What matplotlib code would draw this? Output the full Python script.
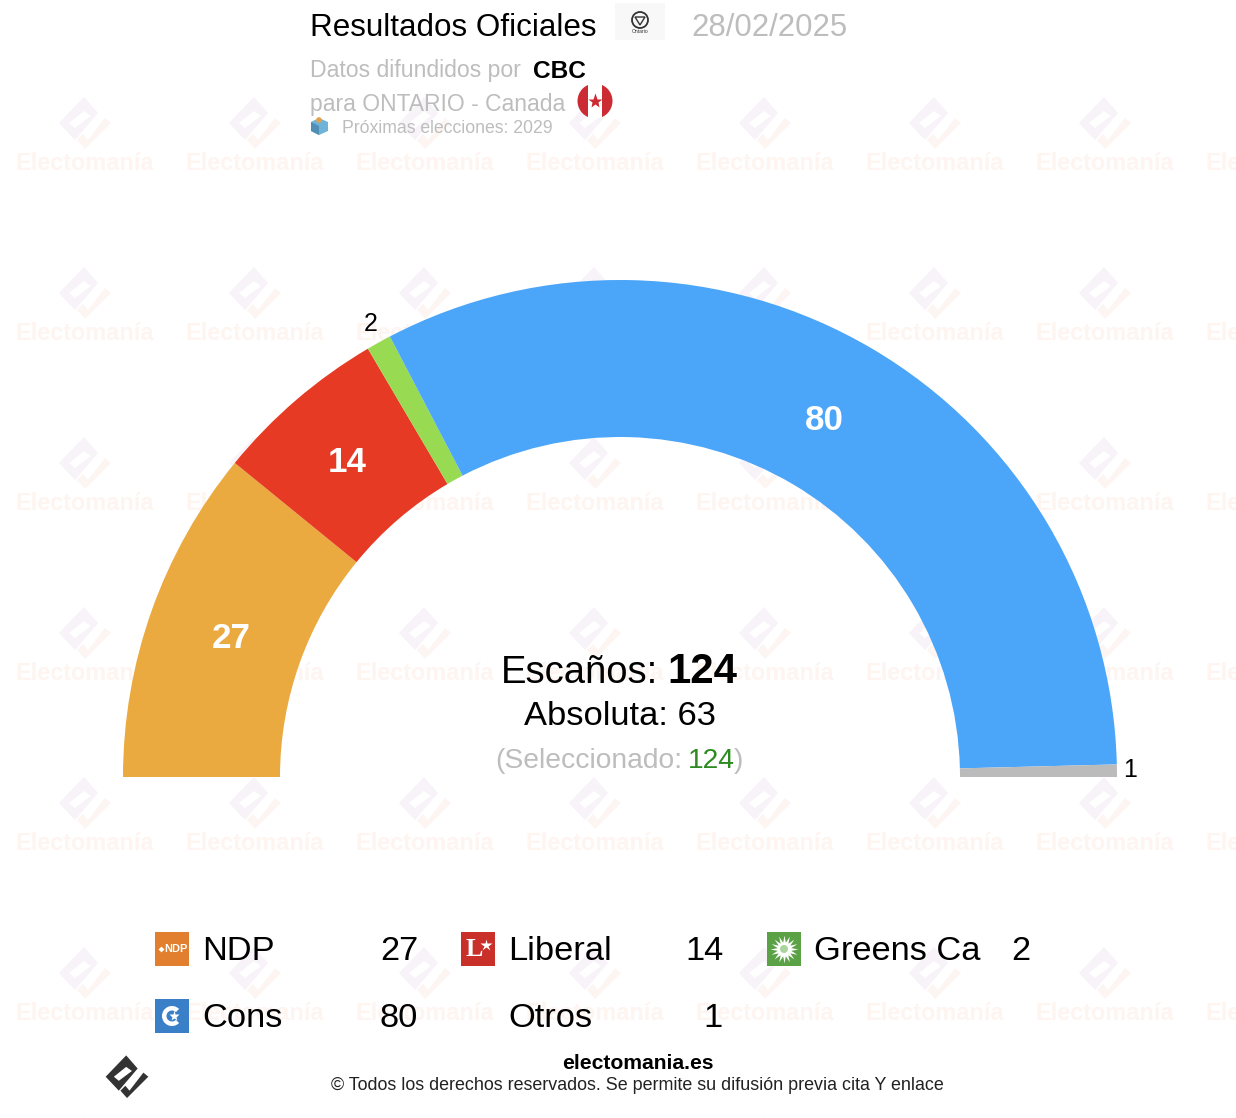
import matplotlib
matplotlib.use("Agg")
import math
import matplotlib.pyplot as plt
from matplotlib.patches import Wedge, Circle, Rectangle, Polygon

plt.rcParams['font.family'] = ['Liberation Sans', 'DejaVu Sans']

# seats, in the order they go round the arc
parties = ["NDP", "Liberal", "Greens Ca", "Cons", "Otros"]
seats = [27, 14, 2, 80, 1]
arc_colors = ["#EBAA3F", "#E63A24", "#98DA52", "#4BA5F8", "#BBBBBB"]
total_seats = 124
majority = 63
selected = 124

title = "Resultados Oficiales"
date = "28/02/2025"
source = "CBC"
region = "para ONTARIO - Canada"
next_vote = "Próximas elecciones: 2029"

CX, CY = 620, 777
R_OUT, R_IN = 497, 340
GREY = "#BDBDBD"

# small hand shifts of the arc labels, by party
label_nudge = {"NDP": (5, -1), "Cons": (-8, 1), "Greens Ca": (0, -7), "Otros": (-3, -3)}

fig = plt.figure(figsize=(12.36, 11.18), dpi=100)
ax = fig.add_axes([0, 0, 1, 1])
ax.set_xlim(0, 1236)
ax.set_ylim(1118, 0)
ax.axis("off")


def put(x, y, s, px, color="black", weight="normal", ha="left", z=5, **kw):
	# px is the font height in picture pixels
	return ax.text(x, y + px * 0.09, s, fontsize=px * 0.72, color=color, fontweight=weight,
		ha=ha, va="center", zorder=z, **kw)


def logo(x, y, scale, c1, c2, hole, z):
	body = [(-1, -30), (13, -14), (-10, 13), (-26, -4)]
	gap = [(-1, -16), (6, -11), (-10, 1), (-16, -4)]
	tick = [(-8, 13), (-2, 7), (3, 13), (20, -9), (26, -4), (0, 22)]
	for pts, col in ((body, c1), (gap, hole), (tick, c2)):
		ax.add_patch(Polygon([(x + a * scale, y + b * scale) for a, b in pts],
			closed=True, fc=col, ec="none", zorder=z))


# watermark grid
for row in range(7):
	for col in range(8):
		wx = 85 + 170 * col
		wy = 127 + 170 * row
		logo(wx, wy, 1, "#F7F3F9", "#FDF5F2", "white", 1)
		put(wx, wy + 34, "Electomanía", 23.5, color="#FEF4F0", weight="bold", ha="center", z=1)

# gauge
start = 0
for name, n, col in zip(parties, seats, arc_colors):
	t1 = 180 + start / total_seats * 180
	t2 = 180 + (start + n) / total_seats * 180
	ax.add_patch(Wedge((CX, CY), R_OUT, t1, t2, width=R_OUT - R_IN, fc=col, ec="none", zorder=3))
	mid = math.radians((t1 + t2) / 2)
	dx, dy = label_nudge.get(name, (0, 0))
	if n > 2:
		r = (R_OUT + R_IN) / 2
		put(CX + r * math.cos(mid) + dx, CY + r * math.sin(mid) + dy, str(n), 35, color="white",
			weight="bold", ha="center")
	else:
		r = R_OUT + 16
		put(CX + r * math.cos(mid) + dx, CY + r * math.sin(mid) + dy, str(n), 25, ha="center")
	start += n

# centre text
put(501, 670, "Escaños:", 38.2)
put(667, 668, str(total_seats), 42, weight="bold")
put(620, 713, "Absoluta: " + str(majority), 34.5, ha="center")
put(495, 758, "(Seleccionado:", 28.2, color=GREY)
put(688, 758, str(selected), 28.2, color="#2E8B22")
put(734, 758, ")", 28.2, color=GREY)

# header
put(310, 25, title, 31.4)
put(691, 25, date, 31.2, color=GREY)
put(310, 68, "Datos difundidos por", 23, color=GREY)
put(533, 69, source, 24.5, weight="bold")
put(310, 102, region, 22.9, color=GREY)
put(342, 127, next_vote, 17.6, color=GREY)

# ontario badge
ax.add_patch(Rectangle((615, 3), 50, 37, fc="#F8F8F8", ec="none", zorder=4))
ax.add_patch(Circle((640, 20), 8, fc="none", ec="#333333", lw=1.3, zorder=5))
ax.add_patch(Polygon([(635, 17), (645, 17), (640, 25)], closed=True, fc="none", ec="#333333", lw=1, zorder=5))
put(640, 31, "Ontario", 5, color="#333333", ha="center")

# canada flag
ax.add_patch(Circle((595, 101), 17.5, fc="white", ec="none", zorder=4))
for left, wide in ((575, 13), (602, 13)):
	clip = Circle((595, 101), 17.5, transform=ax.transData)
	bar = Rectangle((left, 83), wide, 36, fc="#CB2B32", ec="none", zorder=5)
	ax.add_patch(bar)
	bar.set_clip_path(clip)
ax.plot([595], [101], marker="*", ms=11, color="#CB2B32", mec="none", zorder=6)

# ballot box
ax.add_patch(Polygon([(311, 122), (319, 118), (328, 122), (328, 131), (319, 135), (311, 131)],
	closed=True, fc="#6FB3D8", ec="none", zorder=5))
ax.add_patch(Polygon([(311, 122), (319, 126), (319, 135), (311, 131)], closed=True, fc="#4F8FB5", ec="none", zorder=6))
ax.add_patch(Circle((319, 120), 2.8, fc="#E3A24A", ec="none", zorder=6))

# legend
leg_x = [155, 461, 767, 155, 461]
leg_y = [949, 949, 949, 1016, 1016]
leg_icon = ["#E27F2E", "#C9302A", "#5AA245", "#3A80C8", None]
for i in range(len(parties)):
	x, y = leg_x[i], leg_y[i]
	if leg_icon[i]:
		ax.add_patch(Rectangle((x, y - 17), 34, 34, fc=leg_icon[i], ec="none", zorder=4))
	put(x + 47, y - 1, parties[i], 34.4)
	put(x + 263 - (2 if seats[i] == 1 else 0), y - 1, str(seats[i]), 34.4, ha="right")

# icon glyphs
put(176, 948, "NDP", 11, color="white", weight="bold", ha="center")
ax.plot([161], [949], marker="D", ms=3, color="white", mec="none", zorder=6)
put(474, 947, "L", 26, color="white", weight="bold", ha="center", family="Liberation Serif")
ax.plot([486], [945], marker="*", ms=9, color="white", mec="none", zorder=6)
ax.plot([784], [949], marker=(16, 1, 0), ms=20, color="white", mec="none", zorder=5)
ax.add_patch(Circle((784, 949), 4, fc="#A9D49C", ec="none", zorder=6))
ax.add_patch(Wedge((172, 1016), 10, 45, 315, width=4.5, fc="white", ec="none", zorder=5))
ax.plot([174], [1016], marker="*", ms=8, color="white", mec="none", zorder=6)

# footer
logo(127, 1080, 0.82, "#333333", "#333333", "white", 6)
put(638, 1062, "electomania.es", 21.2, weight="bold", ha="center")
put(637, 1084, "© Todos los derechos reservados. Se permite su difusión previa cita Y enlace", 17.9, color="#222222", ha="center")

fig.savefig("out.png", dpi=100)
